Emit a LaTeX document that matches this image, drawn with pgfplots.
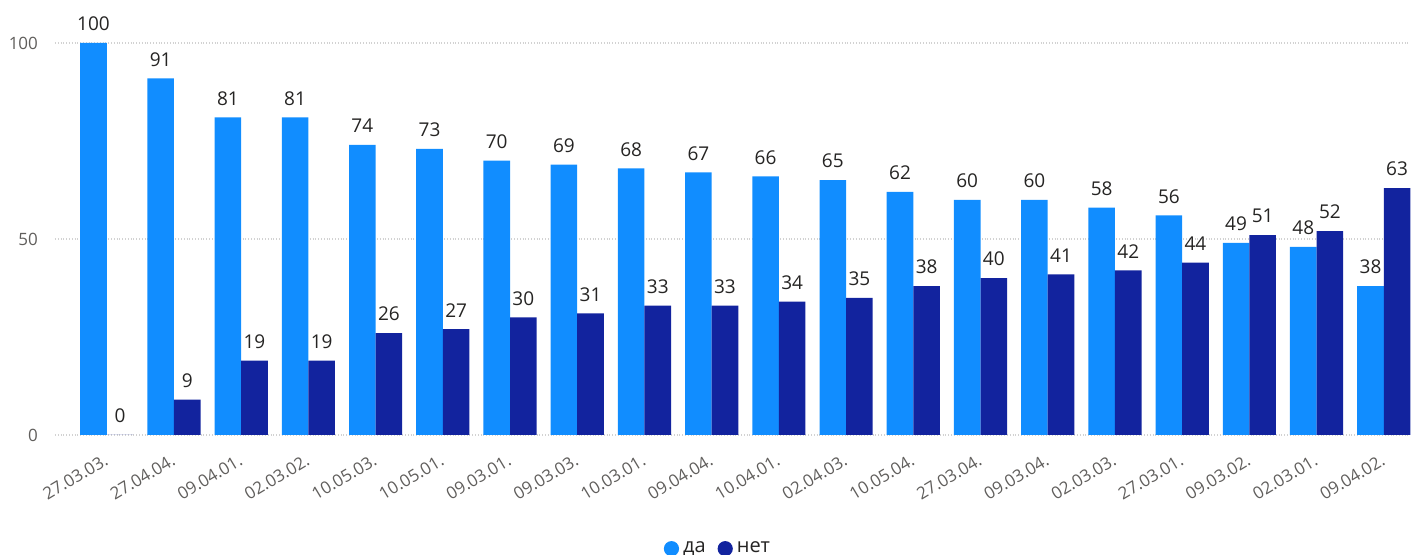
\documentclass[border=0pt]{standalone}
\usepackage{pgfplots}
\pgfplotsset{compat=1.18}
\usepackage{fontspec}
\setmainfont{Open Sans}
\definecolor{da}{HTML}{118DFF}
\definecolor{net}{HTML}{12239E}
\definecolor{lbl}{HTML}{605E5C}
\definecolor{val}{HTML}{252423}
\begin{document}
\begin{tikzpicture}
\useasboundingbox (-27.5pt,-60pt) rectangle (681pt,217.5pt);
\begin{axis}[
  at={(0,0)}, anchor=south west,
  scale only axis,
  width=677.5pt, height=196pt,
  ybar=0pt, bar width=13.3pt,
  xmin=-0.77, xmax=19.39,
  ymin=0, ymax=100,
  ytick={0,50,100},
  xtick={0,...,19},
  xticklabels={27.03.03.,27.04.04.,09.04.01.,02.03.02.,10.05.03.,10.05.01.,09.03.01.,09.03.03.,10.03.01.,09.04.04.,10.04.01.,02.04.03.,10.05.04.,27.03.04.,09.03.04.,02.03.03.,27.03.01.,09.03.02.,02.03.01.,09.04.02.},
  x tick label style={rotate=31, anchor=north east, font=\fontsize{8.5}{10}\selectfont, text=lbl, inner sep=1pt, xshift=-3pt, yshift=-2pt},
  y tick label style={font=\fontsize{8.5}{10}\selectfont, text=lbl, xshift=-5pt},
  /pgf/number format/assume math mode=true,
  axis line style={draw=none},
  tick style={draw=none},
  ymajorgrids,
  grid style={densely dotted, gray!35, line width=0.6pt},
  nodes near coords,
  nodes near coords style={font=\fontsize{9.5}{11}\selectfont, text=val, yshift=2.5pt},
  clip=false,
  legend style={at={(0.49,-0.29)}, anchor=center, draw=none, legend columns=2,
    font=\fontsize{10}{12}\selectfont, text=val,
    /tikz/every even column/.append style={column sep=4pt}},
  legend image code/.code={\fill[#1, draw=none] (3pt,0pt) circle (3.8pt);},
]
\addplot[fill=da, draw=none] coordinates {
(0,100) (1,91) (2,81) (3,81) (4,74) (5,73) (6,70) (7,69) (8,68) (9,67)
(10,66) (11,65) (12,62) (13,60) (14,60) (15,58) (16,56) (17,49) (18,48) (19,38)};
\addplot[fill=net, draw=none] coordinates {
(0,0) (1,9) (2,19) (3,19) (4,26) (5,27) (6,30) (7,31) (8,33) (9,33)
(10,34) (11,35) (12,38) (13,40) (14,41) (15,42) (16,44) (17,51) (18,52) (19,63)};
\legend{да,нет}
\end{axis}
\end{tikzpicture}
\end{document}
